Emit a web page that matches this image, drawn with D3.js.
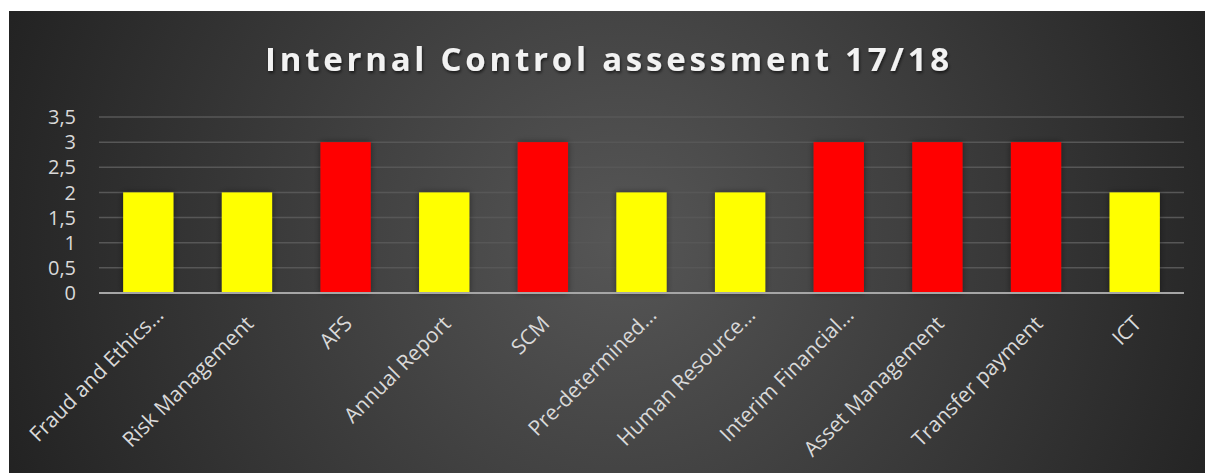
<!DOCTYPE html>
<html>
<head>
<meta charset="utf-8">
<script src="https://cdn.jsdelivr.net/npm/d3@7"></script>
<style>
  body { margin: 0; background: #fff; }
  svg { display: block; }
</style>
</head>
<body>
<svg id="chart"></svg>
<script>
var width = 1205, height = 473;

// data
var categories = ["Fraud and Ethics\u2026", "Risk Management", "AFS", "Annual Report", "SCM",
  "Pre-determined\u2026", "Human Resource\u2026", "Interim Financial\u2026", "Asset Management",
  "Transfer payment", "ICT"];
var values = [2, 2, 3, 2, 3, 2, 2, 3, 3, 3, 2];
var barColors = ["#ffff00", "#ffff00", "#ff0000", "#ffff00", "#ff0000", "#ffff00",
  "#ffff00", "#ff0000", "#ff0000", "#ff0000", "#ffff00"];
var yTicks = [0, 0.5, 1, 1.5, 2, 2.5, 3, 3.5];
var title = "Internal Control assessment 17/18";

var plot = {left: 99, right: 1184, top: 117, bottom: 293};

var svg = d3.select('#chart')
    .attr('width', width)
    .attr('height', height);

var defs = svg.append("defs");
var grad = defs.append("radialGradient")
    .attr("id", "bg")
    .attr("gradientUnits", "userSpaceOnUse")
    .attr("cx", 620).attr("cy", 240).attr("r", 660);
grad.append("stop").attr("offset", "0%").attr("stop-color", "#565656");
grad.append("stop").attr("offset", "100%").attr("stop-color", "#222222");

var shadow = defs.append("filter").attr("id", "barShadow")
    .attr("x", "-30%").attr("y", "-10%").attr("width", "160%").attr("height", "120%");
shadow.append("feDropShadow").attr("dx", 0).attr("dy", 0)
    .attr("stdDeviation", 3).attr("flood-color", "#000").attr("flood-opacity", 0.45);

var tshadow = defs.append("filter").attr("id", "titleShadow");
tshadow.append("feDropShadow").attr("dx", 1).attr("dy", 2)
    .attr("stdDeviation", 1.5).attr("flood-color", "#000").attr("flood-opacity", 0.6);

// chart area
svg.append("rect")
    .attr("x", 9).attr("y", 11)
    .attr("width", width - 9).attr("height", height - 11)
    .attr("fill", "url(#bg)");

var x = d3.scaleBand()
    .domain(categories)
    .range([plot.left, plot.right])
    .paddingInner(0.49)
    .paddingOuter(0.245);

var y = d3.scaleLinear()
    .domain([0, 3.5])
    .range([plot.bottom, plot.top]);

var fmt = function(d) { return String(d).replace(".", ","); };

// gridlines
svg.append("g")
    .selectAll("line")
    .data(yTicks.filter(function(d) { return d > 0; }))
    .enter().append("line")
    .attr("x1", plot.left).attr("x2", plot.right)
    .attr("y1", function(d) { return y(d); })
    .attr("y2", function(d) { return y(d); })
    .attr("stroke", "#575757")
    .attr("stroke-width", 1.5);

// y labels
svg.append("g")
    .selectAll("text")
    .data(yTicks)
    .enter().append("text")
    .attr("x", 76)
    .attr("y", function(d) { return y(d); })
    .attr("dy", "0.36em")
    .attr("text-anchor", "end")
    .attr("font-family", "'Open Sans', sans-serif")
    .attr("font-size", 20)
    .attr("fill", "#d9d9d9")
    .text(fmt);

// bars
svg.append("g")
    .selectAll("rect")
    .data(values)
    .enter().append("rect")
    .attr("x", function(d, i) { return x(categories[i]); })
    .attr("y", function(d) { return y(d); })
    .attr("width", x.bandwidth())
    .attr("height", function(d) { return y(0) - y(d); })
    .attr("fill", function(d, i) { return barColors[i]; })
    .attr("filter", "url(#barShadow)");

// baseline
svg.append("line")
    .attr("x1", plot.left).attr("x2", plot.right)
    .attr("y1", y(0)).attr("y2", y(0))
    .attr("stroke", "#a6a6a6")
    .attr("stroke-width", 2);

// x labels (truncated ones sit a little further along)
svg.append("g")
    .selectAll("text")
    .data(categories)
    .enter().append("text")
    .attr("transform", function(d) {
        var cx = x(d) + x.bandwidth() / 2;
        return "translate(" + (cx - 2) + "," + 315 + ") rotate(-45)";
    })
    .attr("dy", 14)
    .attr("dx", function(d) { return d.slice(-1) === "\u2026" ? 12 : 0; })
    .attr("text-anchor", "end")
    .attr("font-family", "'Open Sans', sans-serif")
    .attr("font-size", 21)
    .attr("fill", "#d9d9d9")
    .text(function(d) { return d; });

// title
var t = svg.append("text")
    .attr("x", 609)
    .attr("y", 71)
    .attr("text-anchor", "middle")
    .attr("font-family", "'Open Sans', sans-serif")
    .attr("font-weight", "bold")
    .attr("font-size", 33)
    .attr("fill", "#f2f2f2")
    .attr("filter", "url(#titleShadow)")
    .text(title);
var tw = t.node().getComputedTextLength();
t.attr("letter-spacing", ((688 - tw) / title.length) + "px");
</script>
</body>
</html>
